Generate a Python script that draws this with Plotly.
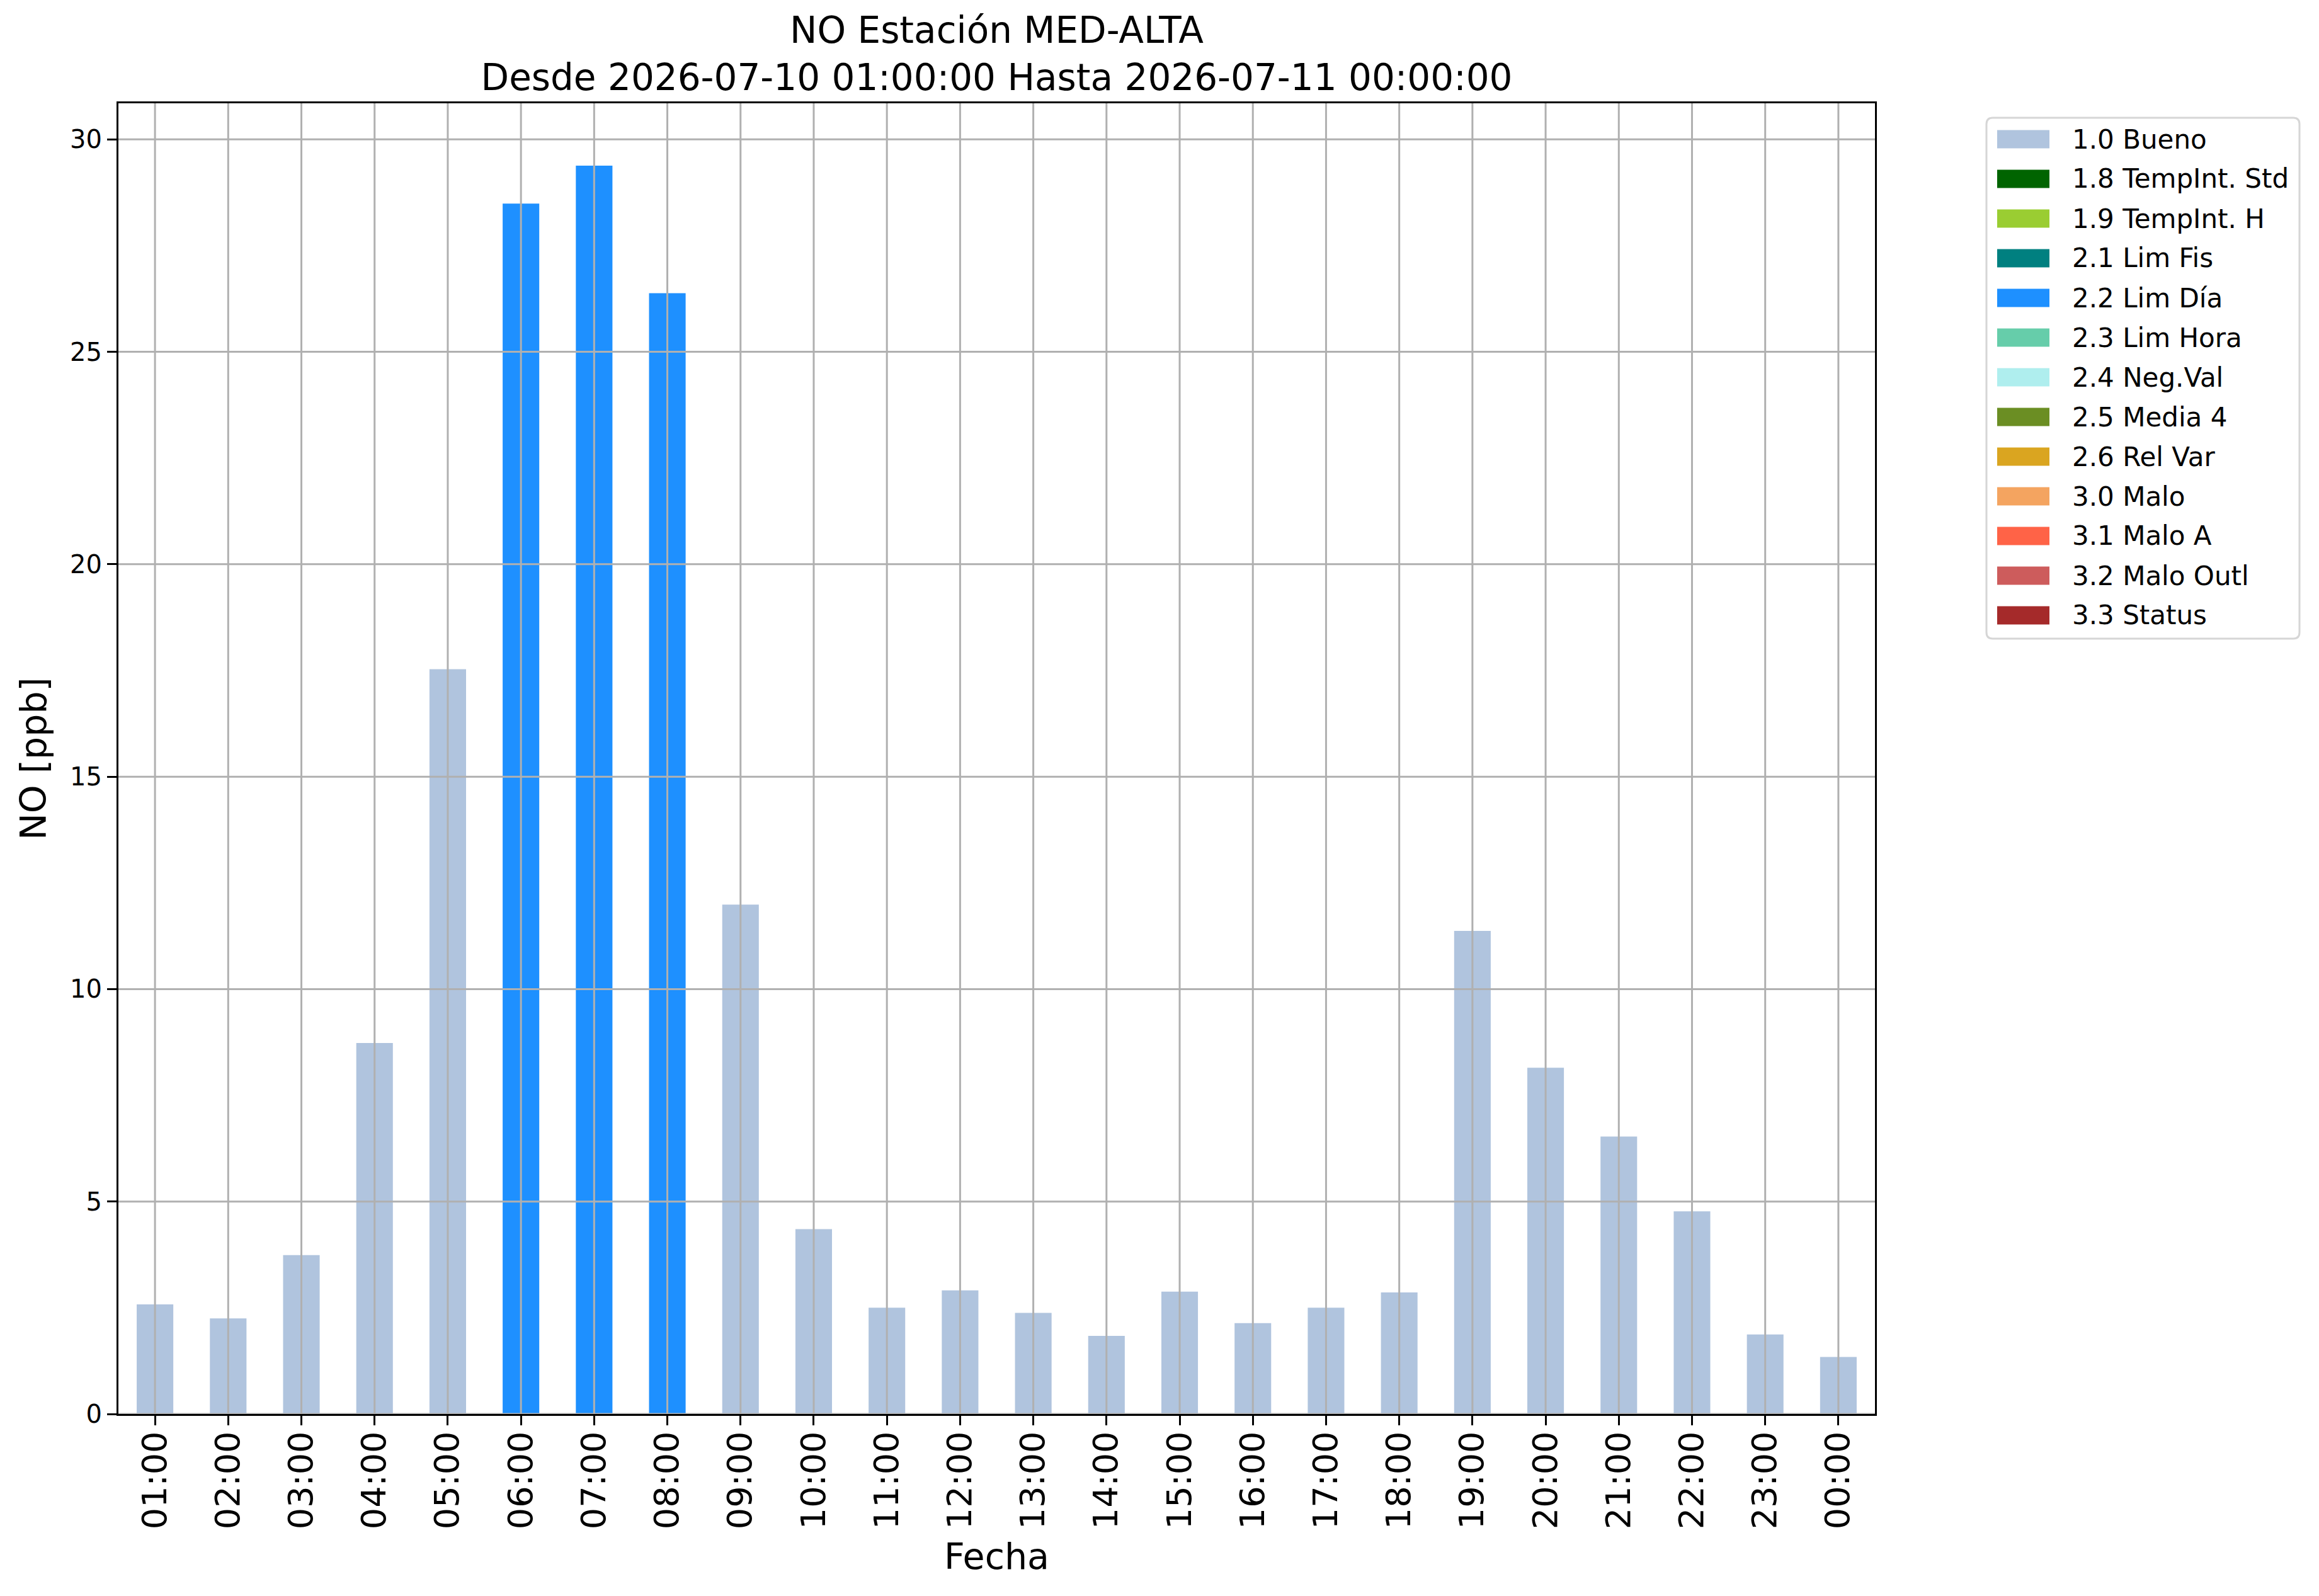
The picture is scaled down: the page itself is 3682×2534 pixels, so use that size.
import plotly.graph_objects as go

# Datos horarios NO (ppb), estación MED-ALTA
horas = ["01:00", "02:00", "03:00", "04:00", "05:00", "06:00", "07:00", "08:00",
         "09:00", "10:00", "11:00", "12:00", "13:00", "14:00", "15:00", "16:00",
         "17:00", "18:00", "19:00", "20:00", "21:00", "22:00", "23:00", "00:00"]
no_ppb = [2.58, 2.25, 3.74, 8.73, 17.53, 28.49, 29.38, 26.38, 11.99, 4.35, 2.50, 2.91,
          2.38, 1.84, 2.88, 2.14, 2.50, 2.86, 11.37, 8.15, 6.53, 4.77, 1.87, 1.34]
banderas = [1.0, 1.0, 1.0, 1.0, 1.0, 2.2, 2.2, 2.2, 1.0, 1.0, 1.0, 1.0,
            1.0, 1.0, 1.0, 1.0, 1.0, 1.0, 1.0, 1.0, 1.0, 1.0, 1.0, 1.0]

codigos = [1.0, 1.8, 1.9, 2.1, 2.2, 2.3, 2.4, 2.5, 2.6, 3.0, 3.1, 3.2, 3.3]
etiquetas = ["1.0 Bueno", "1.8 TempInt. Std", "1.9 TempInt. H", "2.1 Lim Fis",
             "2.2 Lim Día", "2.3 Lim Hora", "2.4 Neg.Val", "2.5 Media 4",
             "2.6 Rel Var", "3.0 Malo", "3.1 Malo A", "3.2 Malo Outl", "3.3 Status"]
colores = ["#B0C4DE", "#006400", "#9ACD32", "#008080", "#1E90FF", "#66CDAA",
           "#AFEEEE", "#6B8E23", "#DAA520", "#F4A460", "#FF6347", "#CD5C5C", "#A52A2A"]

y_ticks = [0, 5, 10, 15, 20, 25, 30]

FUENTE = "DejaVu Sans"
W, H = 3682, 2534
M_L, M_R, M_T, M_B = 188, 705, 164, 289
ANCHO_PLOT = W - M_L - M_R
ALTO_PLOT = H - M_T - M_B


def px_x(px):
    return (px - M_L) / ANCHO_PLOT


def px_y(py):
    return (H - M_B - py) / ALTO_PLOT


fig = go.Figure()

for cod, etq, col in zip(codigos, etiquetas, colores):
    valores = [v if b == cod else None for v, b in zip(no_ppb, banderas)]
    fig.add_trace(go.Bar(
        x=horas,
        y=valores,
        name=etq,
        showlegend=False,
        marker=dict(color=col, line=dict(width=0)),
        hovertemplate='%{x}<br>%{y:.2f} ppb<extra>' + etq + '</extra>'
    ))

# rejilla por encima de las barras, como en matplotlib
for h in horas:
    fig.add_shape(type='line', xref='x', yref='paper', x0=h, x1=h, y0=0, y1=1,
                  line=dict(color='#b0b0b0', width=3), layer='above')
for t in y_ticks:
    fig.add_shape(type='line', xref='paper', yref='y', x0=0, x1=1, y0=t, y1=t,
                  line=dict(color='#b0b0b0', width=3), layer='above')

# leyenda estilo matplotlib (recuadros anchos)
LEG_X0, LEG_X1, LEG_Y0, LEG_Y1 = 3154, 3651, 187, 1014
RADIO = 10
rx, ry = RADIO / ANCHO_PLOT, RADIO / ALTO_PLOT
a, b, c, d = px_x(LEG_X0), px_x(LEG_X1), px_y(LEG_Y0), px_y(LEG_Y1)
marco = (f"M{a + rx},{c} L{b - rx},{c} Q{b},{c} {b},{c - ry} "
         f"L{b},{d + ry} Q{b},{d} {b - rx},{d} L{a + rx},{d} Q{a},{d} {a},{d + ry} "
         f"L{a},{c - ry} Q{a},{c} {a + rx},{c} Z")
fig.add_shape(type='path', xref='paper', yref='paper', path=marco,
              fillcolor='white', line=dict(color='#d6d6d6', width=3), layer='above')

FILA0, PASO = 221, 63
for i, (etq, col) in enumerate(zip(etiquetas, colores)):
    yc = FILA0 + i * PASO
    fig.add_shape(type='rect', xref='paper', yref='paper',
                  x0=px_x(3171), x1=px_x(3254), y0=px_y(yc - 14.5), y1=px_y(yc + 14.5),
                  fillcolor=col, line=dict(width=0), layer='above')
    fig.add_annotation(xref='paper', yref='paper', x=px_x(3288), y=px_y(yc),
                       xanchor='left', yanchor='middle', showarrow=False,
                       text=etq, font=dict(family=FUENTE, size=42, color='black'))

fig.update_layout(
    width=W,
    height=H,
    barmode='relative',
    bargap=0.5,
    title=dict(
        text='NO Estación MED-ALTA<br>Desde 2026-07-10 01:00:00 Hasta 2026-07-11 00:00:00',
        x=0.5, xref='paper', xanchor='center',
        y=1 - 68 / H, yref='container', yanchor='middle',
        font=dict(family=FUENTE, size=58, color='black')
    ),
    xaxis=dict(
        type='category',
        title=dict(text='Fecha', font=dict(family=FUENTE, size=57, color='black'), standoff=24),
        tickangle=-90,
        tickfont=dict(family=FUENTE, size=54, color='black'),
        ticklabelstandoff=-12,
        showgrid=False,
        showline=True, mirror=True, linecolor='black', linewidth=3,
        ticks='outside', ticklen=15, tickwidth=3, tickcolor='black',
        range=[-0.5, len(horas) - 0.5],
        layer='above traces'
    ),
    yaxis=dict(
        title=dict(text='NO [ppb]', font=dict(family=FUENTE, size=57, color='black'), standoff=20),
        tickfont=dict(family=FUENTE, size=40, color='black'),
        tickvals=y_ticks,
        showgrid=False,
        zeroline=False,
        showline=True, mirror=True, linecolor='black', linewidth=3,
        ticks='outside', ticklen=15, tickwidth=3, tickcolor='black',
        range=[0, max(no_ppb) * 1.05],
        layer='above traces'
    ),
    plot_bgcolor='white',
    paper_bgcolor='white',
    margin=dict(l=M_L, r=M_R, t=M_T, b=M_B, autoexpand=False),
    showlegend=False
)

# sin margen del <body> para que la figura quede en (0, 0)
fig.write_html(
    "out.html",
    config={'displayModeBar': False},
    post_script="document.body.style.margin = '0px';"
)
